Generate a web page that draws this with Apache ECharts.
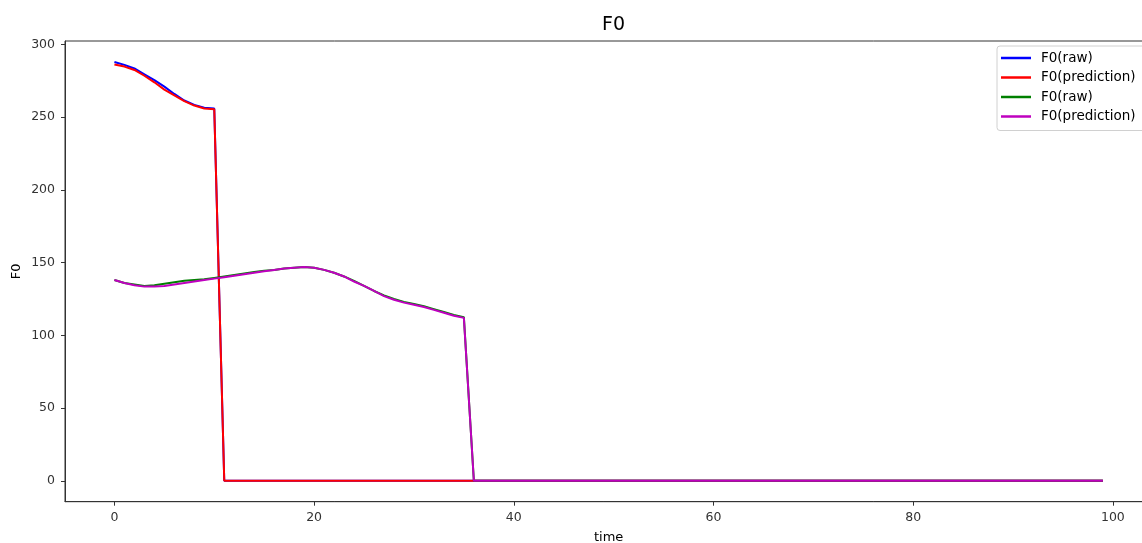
<!DOCTYPE html>
<html>
<head>
<meta charset="utf-8">
<script src="https://cdn.jsdelivr.net/npm/echarts@6/dist/echarts.min.js"></script>
<style>
html,body{margin:0;padding:0;background:#fff;}
#chart{width:1142px;height:543px;}
</style>
</head>
<body>
<div id="chart"></div>
<script>
var titleText = 'F0';
var xName = 'time';
var yName = 'F0';
var seriesNames = ['F0(raw)', 'F0(prediction)', 'F0(raw)', 'F0(prediction)'];
var seriesColors = ['#0000ff', '#ff0000', '#008000', '#bf00bf'];
var xTicks = [0, 20, 40, 60, 80, 100];
var yTicks = [0, 50, 100, 150, 200, 250, 300];
var N = 100;

// values for t = 0..N-1 (listed part, remaining frames are 0)
var raw1Head = [288, 286, 283.5, 279.5, 275.5, 271, 266, 261.5, 258.5, 256.5, 256, 0];
var pred1Head = [286.3, 284.8, 282.5, 278.5, 274, 269, 265, 261, 258, 256, 255.5, 0];
var raw2Head = [138, 136, 135, 134, 134.5, 135.5, 136.5, 137.5, 138, 138.5, 139.5, 140.5, 141.5, 142.5, 143.5, 144.5, 145, 146, 146.5, 147, 146.5, 145, 143, 140.5, 137.5, 134, 130.5, 127.5, 125, 123, 121.5, 120, 118, 116, 114, 112.5, 0];
var pred2Head = [138, 136, 134.5, 133.5, 133.5, 134, 135, 136, 137, 138, 139, 140, 141, 142, 143, 144, 145, 146, 146.5, 147, 146.5, 145, 143, 140.5, 137, 134, 130.5, 127, 124.5, 122.5, 121, 119.5, 117.5, 115.5, 113.5, 112, 0];

function fullSeries(head) {
  var out = [];
  for (var i = 0; i < N; i++) out.push([i, i < head.length ? head[i] : 0]);
  return out;
}
var seriesData = [raw1Head, pred1Head, raw2Head, pred2Head].map(fullSeries);
// duplicate legend names are kept apart by a trailing space on the second pair
var seriesIds = seriesNames.map(function (n, i) { return i >= 2 ? n + ' ' : n; });

var font = 'DejaVu Sans';
var chart = echarts.init(document.getElementById('chart'), null, {renderer: 'canvas'});
chart.setOption({
  animation: false,
  backgroundColor: '#fff',
  title: {
    text: titleText, left: 608.5, top: 11, textAlign: 'center',
    textStyle: {fontFamily: font, fontSize: 19, fontWeight: 'normal', color: '#000'}
  },
  grid: {left: 65, right: -10.3, top: 41, bottom: 41.3, outerBoundsMode: 'none', containLabel: false,
    show: true, borderColor: '#333', borderWidth: 1, backgroundColor: 'transparent'},
  legend: {
    orient: 'vertical', left: 997, top: 46,
    padding: [5, 6, 7, 4],
    itemWidth: 30, itemHeight: 2.5, itemGap: 5.5,
    icon: 'rect',
    backgroundColor: '#fff', borderColor: '#d0d0d0', borderWidth: 1, borderRadius: 3,
    textStyle: {fontFamily: font, fontSize: 13.5, color: '#000', lineHeight: 14, padding: [0, 0, 0, 5]},
    data: seriesIds.map(function (n, i) { return {name: n, itemStyle: {color: seriesColors[i]}}; })
  },
  xAxis: {
    type: 'value', min: -4.95, max: 103.95,
    name: xName, nameLocation: 'middle', nameGap: 29.5,
    nameTextStyle: {fontFamily: font, fontSize: 13, color: '#000'},
    axisLine: {show: true, onZero: false, lineStyle: {color: '#333', width: 1}},
    axisTick: {show: true, length: 4, customValues: xTicks, lineStyle: {color: '#333'}},
    axisLabel: {fontFamily: font, fontSize: 12.5, color: '#333', margin: 10, customValues: xTicks},
    splitLine: {show: false}
  },
  yAxis: {
    type: 'value', min: -14.4, max: 302.4,
    name: yName, nameLocation: 'middle', nameGap: 42, nameRotate: 90, nameMoveOverlap: false,
    nameTextStyle: {fontFamily: font, fontSize: 13, color: '#000'},
    axisLine: {show: true, onZero: false, lineStyle: {color: '#333', width: 1}},
    axisTick: {show: true, length: 4, customValues: yTicks, lineStyle: {color: '#333'}},
    axisLabel: {fontFamily: font, fontSize: 12.5, color: '#333', margin: 10, customValues: yTicks},
    splitLine: {show: false}
  },
  series: seriesData.map(function (d, i) {
    return {
      name: seriesIds[i], type: 'line', data: d, showSymbol: false, symbol: 'none',
      lineStyle: {color: seriesColors[i], width: 2}, itemStyle: {color: seriesColors[i]},
      z: 2 + i
    };
  })
});
</script>
</body>
</html>
